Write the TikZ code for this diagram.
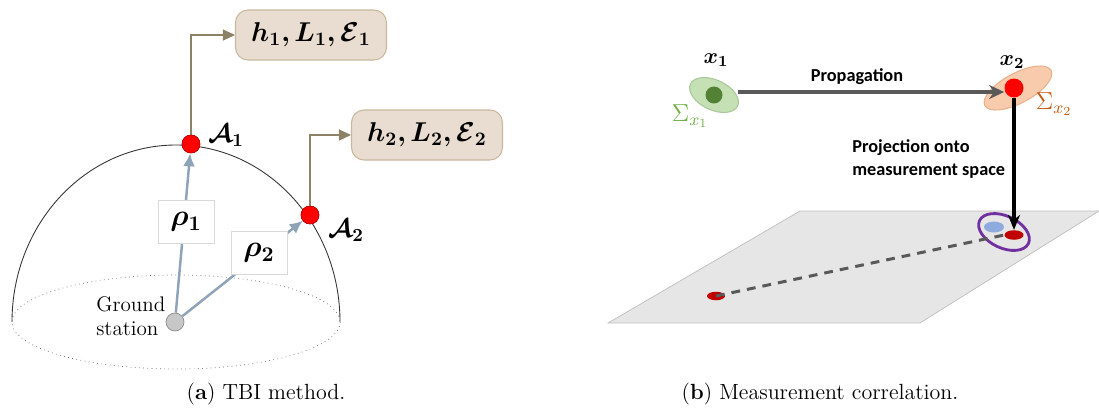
\RequirePackage{fix-cm}
\documentclass[tikz,border=0pt]{standalone}
\usepackage{fontspec}
\usepackage{amsmath}
\usepackage{bm}
\usetikzlibrary{arrows.meta,shapes.geometric}
\newfontfamily\calibri{Carlito}
\definecolor{infofill}{HTML}{E8DDD0}
\definecolor{infodraw}{HTML}{C9B89E}
\definecolor{linkcol}{HTML}{8C8266}
\definecolor{rhocol}{HTML}{8FA3B8}
\definecolor{covgreen}{HTML}{C5E0B4}
\definecolor{covgreenline}{HTML}{A9C89A}
\definecolor{stategreen}{HTML}{548235}
\definecolor{siggreen}{HTML}{70AD47}
\definecolor{covorange}{HTML}{F8CBAD}
\definecolor{covorangeline}{HTML}{E9B08C}
\definecolor{sigorange}{HTML}{C55A11}
\definecolor{darkgray}{HTML}{595959}
\definecolor{planefill}{HTML}{E6E6E6}
\definecolor{planedraw}{HTML}{BFBFBF}
\definecolor{measred}{HTML}{C00000}
\definecolor{obsblue}{HTML}{8FAADC}
\definecolor{gatepurple}{HTML}{7030A0}
\tikzset{
  domeline/.style={draw=black!80, line width=0.5pt},
  baseellipse/.style={draw=black!60, dotted, line width=0.4pt},
  satdot/.style={circle, fill=red, draw=red!70!black, line width=0.3pt,
                 minimum size=0.36cm, inner sep=0pt},
  gsdot/.style={circle, fill=black!22, draw=black!45, line width=0.4pt,
                minimum size=0.36cm, inner sep=0pt},
  gstext/.style={font=\fontsize{12}{13.5}\selectfont, align=left, inner sep=0pt},
  satlabel/.style={font=\fontsize{15}{17}\selectfont, inner sep=0pt},
  infobox/.style={draw=infodraw, fill=infofill, rounded corners=2.5mm,
                  minimum width=3.02cm, minimum height=1cm, line width=0.6pt,
                  font=\fontsize{15.5}{17}\selectfont},
  rhobox/.style={draw=black!15, fill=white, minimum width=1.12cm,
                 minimum height=0.87cm, inner sep=0pt,
                 font=\fontsize{17}{19}\selectfont},
  rhoarrow/.style={-{Latex[length=2.6mm,width=2.4mm]}, draw=rhocol, line width=1.4pt},
  linkarrow/.style={-{Triangle[length=2.4mm,width=2.2mm]}, draw=linkcol, line width=0.6pt},
  covell/.style={ellipse, inner sep=0pt, line width=0.6pt},
  statedot/.style={circle, inner sep=0pt, minimum size=0.34cm},
  statelabel/.style={font=\fontsize{12.5}{14}\selectfont, inner sep=0pt},
  siglabel/.style={font=\fontsize{14}{16}\selectfont, inner sep=0pt},
  proparrow/.style={-{Stealth[length=3mm,width=2.8mm]}, draw=darkgray, line width=2.1pt},
  projarrow/.style={-{Stealth[length=3mm,width=2.4mm]}, draw=black, line width=1.8pt},
  sanslabel/.style={font=\calibri\bfseries\fontsize{10.4}{12.6}\selectfont,
                    align=left, inner sep=0pt},
  measell/.style={ellipse, inner sep=0pt, minimum width=0.38cm, minimum height=0.19cm},
  corrline/.style={draw=darkgray, line width=1.7pt, dash pattern=on 5pt off 4pt},
  captext/.style={font=\fontsize{12.5}{14}\selectfont, inner sep=0pt},
}
\begin{document}
\begin{tikzpicture}[x=0.02cm,y=-0.02cm]
  \useasboundingbox (0,0) rectangle (1099,410);

  \draw[domeline] (12,322) arc[start angle=180, end angle=360, x radius=164, y radius=177];
  \draw[baseellipse] (176,322) ellipse[x radius=164, y radius=47];

  \node[gsdot] (gs) at (175,322) {};
  \node[gstext, anchor=west] (gslabel) at (96,316) {Ground\\station};
  \node[satdot] (a1) at (191,144) {};
  \node[satlabel] (a1lab) at (226,135) {$\bm{\mathcal{A}_1}$};
  \node[satdot] (a2) at (310,215) {};
  \node[satlabel] (a2lab) at (346,230) {$\bm{\mathcal{A}_2}$};
  \node[infobox] (info1) at (311,35) {$\bm{h_1, L_1, \mathcal{E}_1}$};
  \node[infobox] (info2) at (427,135) {$\bm{h_2, L_2, \mathcal{E}_2}$};

  \draw[linkarrow] (a1.north) |- (info1.west);
  \draw[linkarrow] (a2.north) |- (info2.west);
  \draw[rhoarrow] (gs) -- (a1);
  \draw[rhoarrow] (gs) -- (a2);
  \node[rhobox] (rho1) at (186,222) {$\bm{\rho_1}$};
  \node[rhobox] (rho2) at (259,253) {$\bm{\rho_2}$};
  \node[satdot] at (a1) {};
  \node[satdot] at (a2) {};

  \fill[planefill, draw=planedraw, line width=0.4pt]
    (608,323) -- (920,323) -- (1099,211) -- (800,211) -- cycle;

  \node[covell, fill=covgreen, draw=covgreenline, minimum width=1.04cm,
        minimum height=0.6cm, rotate=-25] (cov1) at (714,95) {};
  \node[statedot, fill=stategreen] (x1dot) at (714,95) {};
  \node[covell, fill=covorange, draw=covorangeline, minimum width=1.5cm,
        minimum height=0.6cm, rotate=28] (cov2) at (1018,88) {};
  \node[statedot, fill=red, minimum size=0.38cm] (x2dot) at (1014,88) {};
  \node[statelabel] (x1lab) at (716,60) {$\bm{x_1}$};
  \node[statelabel] (x2lab) at (1012,62) {$\bm{x_2}$};
  \node[siglabel, text=siggreen] (sig1) at (690,116) {$\Sigma_{x_1}$};
  \node[siglabel, text=sigorange] (sig2) at (1054,104) {$\Sigma_{x_2}$};

  \node[measell, fill=obsblue, minimum width=0.4cm, minimum height=0.22cm] (obs) at (994,227) {};
  \node[measell, fill=measred] (meas2) at (1014,235) {};
  \node[measell, fill=measred, minimum width=0.36cm, minimum height=0.17cm] (meas1) at (716,296) {};
  \node[covell, draw=gatepurple, line width=1.6pt, minimum width=1.08cm,
        minimum height=0.64cm, rotate=-25] (gate) at (1004,232) {};

  \coordinate (propstart) at (738,92);
  \draw[proparrow] (propstart) -- (x2dot.west |- propstart);
  \node[sanslabel] (proplab) at (857,77) {Propagation};
  \draw[projarrow] (x2dot) -- (meas2.north);
  \draw[corrline] (meas1.center) -- (meas2.west);
  \node[sanslabel, anchor=west] (projlab) at (852,159) {Projection onto\\measurement space};

  \node[captext] (capa) at (266,394) {(\textbf{a}) TBI method.};
  \node[captext] (capb) at (820,394) {(\textbf{b}) Measurement correlation.};
\end{tikzpicture}
\end{document}
